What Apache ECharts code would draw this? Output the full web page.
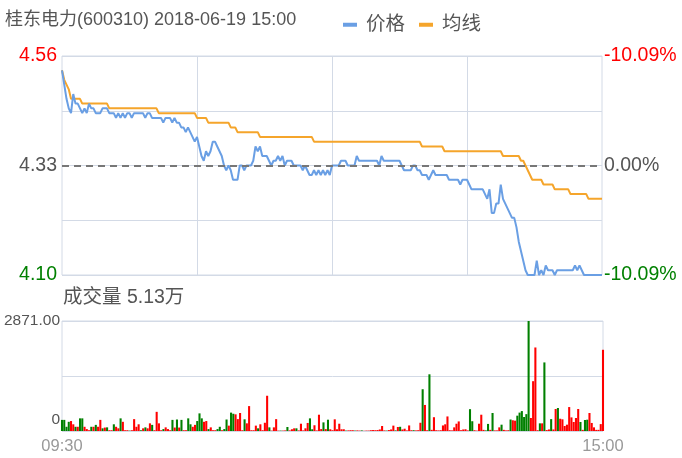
<!DOCTYPE html>
<html><head><meta charset="utf-8">
<script src="https://cdn.jsdelivr.net/npm/echarts@6/dist/echarts.min.js"></script>
<style>html,body{margin:0;padding:0;background:#fff}#c{width:682px;height:458px}</style>
</head><body><div id="c"></div>
<script>
const stockTitle = '桂东电力(600310) 2018-06-19 15:00';
const volumeTitle = '成交量 5.13万';
const seriesNames = ['价格', '均线'];
const timeLabels = ['09:30', '15:00'];
const priceTickLabels = ['4.10', '', '4.33', '', '4.56'];
const pctTickLabels = ['-10.09%', '', '0.00%', '', '-10.09%'];
const volumeTickLabels = ['0', '', '2871.00'];
const prevClose = 4.33;
const priceMin = 4.10, priceMax = 4.56, volumeMax = 2871;

const price = [
4.53,4.50,4.47,4.45,4.44,4.48,4.46,4.46,4.45,4.44,
4.45,4.44,4.46,4.45,4.45,4.44,4.44,4.44,4.45,4.45,
4.45,4.44,4.44,4.44,4.43,4.44,4.43,4.44,4.43,4.44,
4.44,4.43,4.44,4.44,4.44,4.44,4.44,4.43,4.44,4.44,
4.43,4.43,4.43,4.43,4.43,4.42,4.43,4.43,4.43,4.42,
4.43,4.42,4.42,4.41,4.41,4.40,4.41,4.40,4.39,4.38,
4.39,4.37,4.35,4.34,4.36,4.35,4.36,4.38,4.38,4.37,
4.36,4.35,4.33,4.32,4.33,4.32,4.30,4.30,4.30,4.33,
4.33,4.32,4.33,4.33,4.33,4.34,4.37,4.36,4.37,4.35,
4.35,4.35,4.34,4.33,4.34,4.34,4.35,4.34,4.35,4.33,
4.34,4.34,4.34,4.33,4.33,4.33,4.33,4.32,4.33,4.32,
4.31,4.31,4.32,4.31,4.32,4.31,4.32,4.31,4.32,4.31,
4.33,4.33,4.33,4.33,4.34,4.34,4.34,4.33,4.33,4.33,
4.33,4.35,4.34,4.34,4.34,4.34,4.34,4.34,4.34,4.34,
4.34,4.33,4.35,4.34,4.34,4.34,4.34,4.34,4.34,4.34,
4.34,4.33,4.32,4.32,4.32,4.32,4.33,4.33,4.32,4.32,
4.31,4.31,4.31,4.30,4.31,4.32,4.31,4.31,4.31,4.31,
4.31,4.31,4.30,4.30,4.30,4.30,4.30,4.29,4.30,4.30,
4.30,4.29,4.28,4.28,4.28,4.28,4.28,4.28,4.27,4.26,
4.28,4.23,4.23,4.25,4.25,4.29,4.26,4.25,4.24,4.23,
4.22,4.22,4.20,4.17,4.15,4.13,4.11,4.10,4.10,4.10,
4.10,4.13,4.10,4.11,4.10,4.12,4.11,4.11,4.11,4.10,
4.11,4.11,4.11,4.11,4.11,4.11,4.11,4.11,4.12,4.11,
4.12,4.11,4.10,4.10,4.10,4.10,4.10,4.10,4.10,4.10,
4.10
];

const avgPrice = [
4.53,4.51,4.50,4.49,4.47,4.47,4.47,4.47,4.47,4.46,
4.46,4.46,4.46,4.46,4.46,4.46,4.46,4.46,4.46,4.46,
4.46,4.45,4.45,4.45,4.45,4.45,4.45,4.45,4.45,4.45,
4.45,4.45,4.45,4.45,4.45,4.45,4.45,4.45,4.45,4.45,
4.45,4.45,4.45,4.44,4.44,4.44,4.44,4.44,4.44,4.44,
4.44,4.44,4.44,4.44,4.44,4.44,4.44,4.44,4.44,4.44,
4.43,4.43,4.43,4.43,4.43,4.42,4.42,4.42,4.42,4.42,
4.42,4.42,4.42,4.42,4.42,4.41,4.41,4.41,4.40,4.40,
4.40,4.40,4.40,4.40,4.40,4.40,4.40,4.40,4.39,4.39,
4.39,4.39,4.39,4.39,4.39,4.39,4.39,4.39,4.39,4.39,
4.39,4.39,4.39,4.39,4.39,4.39,4.39,4.39,4.39,4.39,
4.39,4.39,4.38,4.38,4.38,4.38,4.38,4.38,4.38,4.38,
4.38,4.38,4.38,4.38,4.38,4.38,4.38,4.38,4.38,4.38,
4.38,4.38,4.38,4.38,4.38,4.38,4.38,4.38,4.38,4.38,
4.38,4.38,4.38,4.38,4.38,4.38,4.38,4.38,4.38,4.38,
4.38,4.38,4.38,4.38,4.38,4.38,4.38,4.38,4.38,4.38,
4.37,4.37,4.37,4.37,4.37,4.37,4.37,4.37,4.37,4.37,
4.36,4.36,4.36,4.36,4.36,4.36,4.36,4.36,4.36,4.36,
4.36,4.36,4.36,4.36,4.36,4.36,4.36,4.36,4.36,4.36,
4.36,4.36,4.36,4.36,4.36,4.36,4.35,4.35,4.35,4.35,
4.35,4.35,4.35,4.35,4.34,4.34,4.33,4.32,4.31,4.30,
4.30,4.30,4.30,4.30,4.29,4.29,4.29,4.29,4.29,4.28,
4.28,4.28,4.28,4.28,4.28,4.28,4.27,4.27,4.27,4.27,
4.27,4.27,4.27,4.27,4.26,4.26,4.26,4.26,4.26,4.26,
4.26
];

const volume = [
290,290,110,240,260,175,110,110,330,330,
110,50,20,110,110,160,110,290,70,90,
95,20,20,175,110,70,330,240,20,20,
10,20,310,110,175,20,70,95,70,200,
160,20,500,200,20,50,95,50,20,290,
90,300,90,290,20,20,330,175,110,160,
260,460,330,240,260,50,95,20,20,50,
110,20,50,300,140,480,450,435,310,470,
20,305,200,650,20,20,140,70,175,20,
215,920,95,10,95,310,10,10,10,15,
105,15,45,70,70,15,190,15,70,210,
330,45,150,15,425,50,225,50,295,45,
20,305,45,190,45,45,10,15,20,20,
10,15,10,15,5,10,10,20,25,20,
25,40,130,15,10,25,40,140,15,105,
110,40,60,15,145,20,20,15,20,215,
1090,680,20,1480,30,360,20,15,20,145,
175,380,20,15,95,190,250,20,40,45,
15,570,255,20,10,190,425,30,15,185,
30,470,15,15,95,165,30,15,20,300,
280,270,400,480,520,365,440,2871,340,1300,
2180,20,200,200,1790,25,40,310,40,575,
600,320,305,130,165,625,355,235,340,575,
235,30,287,295,470,210,95,30,30,180,
2120
];

// 1 = red (up), 0 = green (down)
const volumeUp = [
0,0,0,0,1,1,0,1,0,0,
1,1,1,0,1,0,1,1,0,1,
0,1,1,0,1,1,0,1,1,1,
0,1,1,1,1,0,1,0,1,1,
0,1,1,1,1,0,1,1,1,0,
1,0,1,0,1,1,0,0,1,1,
0,0,0,1,1,0,1,1,1,0,
0,1,0,0,1,0,0,1,1,1,
1,0,1,1,1,1,1,0,1,1,
1,1,0,1,1,1,1,0,1,1,
0,1,1,1,0,1,1,1,1,1,
0,0,1,1,1,1,0,1,0,1,
1,1,1,1,1,1,0,1,1,1,
0,1,1,0,1,1,1,1,1,1,
1,1,1,1,0,1,1,1,0,1,
0,1,1,1,1,1,0,1,1,1,
0,1,1,0,1,1,1,1,1,1,
1,1,1,1,1,1,1,1,1,1,
1,0,0,1,1,1,1,1,0,0,
1,0,1,1,1,0,1,1,1,0,
1,1,0,0,0,0,0,0,1,1,
1,1,0,1,0,1,1,0,1,1,
0,1,1,1,1,1,1,1,1,1,
0,1,0,0,1,1,1,1,1,1,
1
];

const N = price.length;
const times = [];
for (let i = 0; i < N; i++) {
  const m = i <= 120 ? 9 * 60 + 30 + i : 13 * 60 + (i - 120);
  times.push(String(Math.floor(m / 60)).padStart(2, '0') + ':' + String(m % 60).padStart(2, '0'));
}

const FONT = "'Liberation Sans', Arial, 'Noto Sans CJK SC', sans-serif";
const BLUE = '#6a9fe4', ORANGE = '#f5a52b', RED = '#ff0000', GREEN = '#008000';
const GRIDC = '#d3dae6';

const chart = echarts.init(document.getElementById('c'), null, {renderer: 'canvas'});
const styleKeys = ['dn', '', 'mid', '', 'up'];
const LAB = 19.5;
const richLab = {
  up: {color: RED, fontSize: LAB, fontFamily: FONT},
  mid: {color: '#555', fontSize: LAB, fontFamily: FONT},
  dn: {color: GREEN, fontSize: LAB, fontFamily: FONT}
};

chart.setOption({
  animation: false,
  textStyle: {fontFamily: FONT},
  title: [
    {text: stockTitle, left: 5, top: 11, padding: 0, textStyle: {fontSize: 18, fontWeight: 'normal', color: '#555', fontFamily: FONT}},
    {text: volumeTitle, left: 63, top: 288, padding: 0, textStyle: {fontSize: 19.5, fontWeight: 'normal', color: '#555', fontFamily: FONT}}
  ],
  legend: {
    left: 338, top: 10, icon: 'rect', itemWidth: 14, itemHeight: 4, itemGap: 14,
    textStyle: {fontSize: 19.5, color: '#555', fontFamily: FONT, padding: [0, 0, 0, 4]},
    data: seriesNames
  },
  grid: [
    {left: 62, right: 80, top: 56, height: 219, show: true, borderColor: GRIDC, borderWidth: 1, backgroundColor: 'transparent'},
    {left: 62, right: 79, top: 321, height: 110, show: true, borderColor: GRIDC, borderWidth: 1, backgroundColor: 'transparent'}
  ],
  xAxis: [
    {type: 'category', gridIndex: 0, data: times, boundaryGap: false,
     axisLine: {show: false}, axisTick: {show: false}, axisLabel: {show: false},
     splitLine: {show: true, interval: (i) => i % 60 === 0 && i > 0 && i < N - 1, lineStyle: {color: GRIDC, width: 1}}},
    {type: 'category', gridIndex: 1, data: times, boundaryGap: false,
     axisLine: {show: false}, axisTick: {show: false},
     axisLabel: {show: true, interval: (i) => i === 0 || i === N - 1,
       formatter: (v, i) => (i === 0 ? timeLabels[0] : timeLabels[1]),
       color: '#999', fontSize: 16.5, margin: 7, fontFamily: FONT},
     splitLine: {show: false}}
  ],
  yAxis: [
    {type: 'value', gridIndex: 0, min: priceMin, max: priceMax, show: false},
    {type: 'value', gridIndex: 0, min: 0, max: 4, interval: 1, position: 'left',
     axisLine: {show: false}, axisTick: {show: false},
     splitLine: {show: true, lineStyle: {color: GRIDC, width: 1}},
     axisLabel: {margin: 5, formatter: (v) => { const k = Math.round(v); return priceTickLabels[k] ? '{' + styleKeys[k] + '|' + priceTickLabels[k] + '}' : ''; }, rich: richLab}},
    {type: 'value', gridIndex: 0, min: 0, max: 4, interval: 1, position: 'right',
     axisLine: {show: false}, axisTick: {show: false}, splitLine: {show: false},
     axisLabel: {margin: 2, formatter: (v) => { const k = Math.round(v); return pctTickLabels[k] ? '{' + styleKeys[k] + '|' + pctTickLabels[k] + '}' : ''; }, rich: richLab}},
    {type: 'value', gridIndex: 1, min: 0, max: volumeMax, interval: volumeMax / 2, position: 'left',
     axisLine: {show: false}, axisTick: {show: false},
     splitLine: {show: true, lineStyle: {color: GRIDC, width: 1}},
     axisLabel: {margin: 2, color: '#555', fontSize: 15.5, fontFamily: FONT,
       formatter: (v) => { const k = Math.round(v / (volumeMax / 2)); if (k === 0) return '{z|' + volumeTickLabels[0] + '}'; return volumeTickLabels[k] || ''; },
       rich: {z: {color: '#555', fontSize: 15.5, fontFamily: FONT, padding: [0, 0, 22, 0]}}}}
  ],
  series: [
    {name: seriesNames[0], type: 'line', xAxisIndex: 0, yAxisIndex: 0, data: price,
     symbol: 'none', showSymbol: false, silent: true, z: 3,
     lineStyle: {color: BLUE, width: 2}, itemStyle: {color: BLUE},
     markLine: {silent: true, symbol: 'none', animation: false, label: {show: false},
       lineStyle: {color: '#777', type: [7, 5], width: 2}, data: [{yAxis: prevClose}]}},
    {name: seriesNames[1], type: 'line', xAxisIndex: 0, yAxisIndex: 0, data: avgPrice,
     symbol: 'none', showSymbol: false, silent: true, z: 2,
     lineStyle: {color: ORANGE, width: 2}, itemStyle: {color: ORANGE}},
    {name: '成交量', type: 'bar', xAxisIndex: 1, yAxisIndex: 3, silent: true,
     barWidth: '92%',
     data: volume.map((v, i) => ({value: v, itemStyle: {color: volumeUp[i] ? RED : GREEN}}))}
  ]
});
</script>
</body></html>
